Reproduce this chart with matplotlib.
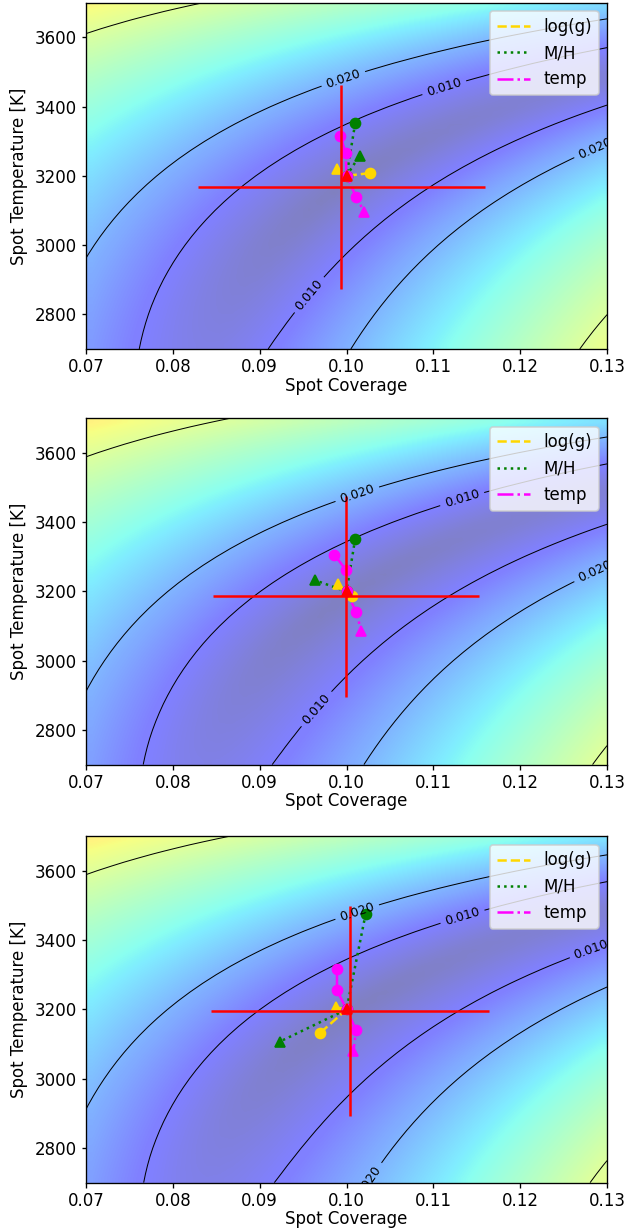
import numpy as np
import matplotlib
matplotlib.use("Agg")
import matplotlib.pyplot as plt

# rejilla de cobertura y temperatura de mancha
cobertura = np.linspace(0.07, 0.13, 41)
temperatura = np.linspace(2700, 3700, 41)

# modelo de residuo (contraste de mancha frente a la fotosfera)
T_fot = 4050.0
n_exp = 6
b_piso = 0.0126
niveles = [0.010, 0.020, 0.050]
niveles_etiqueta = [0.010, 0.020]

valor_real_c = 0.10
valor_real_T = 3200

# ajuste de cada panel (centro de la cruz de error)
ajuste_c = [0.0994, 0.0999, 0.10045]
ajuste_T = [3168, 3186, 3196]
err_c = [0.0165, 0.0153, 0.0160]
err_T = [295, 290, 303]
# sensibilidad a cada lado del valle (menos / mas senal de mancha)
sens_neg = [1.11, 1.24, 1.24]
curv_neg = [1.7, 0.0, 0.0]
sens_pos = [1.27, 1.073, 1.007]
curv_pos = [0.0, 3.24, 5.24]

# series: log(g), M/H, temp (el ultimo punto de cada serie es el triangulo)
logg_c = [[0.1027, 0.1000, 0.0989], [0.1006, 0.1000, 0.0990], [0.0970, 0.1000, 0.0988]]
logg_T = [[3208, 3200, 3219], [3188, 3200, 3222], [3133, 3200, 3206]]
mh_c = [[0.1010, 0.1000, 0.1015], [0.1010, 0.1000, 0.0964], [0.1022, 0.1000, 0.0923]]
mh_T = [[3352, 3200, 3258], [3352, 3200, 3232], [3476, 3200, 3107]]
temp_c = [[0.0993, 0.0999, 0.1000, 0.1011, 0.1020],
          [0.0986, 0.0999, 0.1000, 0.1011, 0.1017],
          [0.0989, 0.0989, 0.1000, 0.1011, 0.1008]]
temp_T = [[3316, 3265, 3200, 3140, 3097],
          [3306, 3263, 3200, 3140, 3087],
          [3317, 3256, 3200, 3141, 3080]]

# posiciones aproximadas de las etiquetas de contorno
etiquetas = [
    [(0.0997, 3475), (0.1113, 3451), (0.1286, 3282), (0.0952, 2867)],
    [(0.1010, 3499), (0.1131, 3485), (0.1279, 3297), (0.0962, 2868)],
    [(0.1011, 3491), (0.1132, 3481), (0.1276, 3413), (0.1019, 2713)],
]


def residuo(cc, TT, i):
    k = 1 - (TT / T_fot) ** n_exp
    S0 = ajuste_c[i] * (1 - (ajuste_T[i] / T_fot) ** n_exp)
    dS = cc * k - S0
    d = np.abs(dS)
    lado = np.where(dS < 0,
                    sens_neg[i] * d * (1 + curv_neg[i] * d),
                    sens_pos[i] * d * (1 + curv_pos[i] * d))
    return np.sqrt(lado ** 2 + (b_piso * (TT - ajuste_T[i]) / 1000) ** 2)


plt.rcParams["xtick.major.size"] = 2.7
plt.rcParams["ytick.major.size"] = 2.7
plt.rcParams["xtick.major.pad"] = 2.7
plt.rcParams["ytick.major.pad"] = 2.7

fig = plt.figure(figsize=(641 / 120, 1231 / 120), dpi=120)
fondos = [0.7165, 0.3789, 0.0393]
CC, TT = np.meshgrid(cobertura, temperatura)

for i in range(3):
    ax = fig.add_axes([0.1342, fondos[i], 0.8128, 0.2813])
    Z = residuo(CC, TT, i)
    ax.imshow(Z, origin="lower", aspect="auto", cmap="jet", alpha=0.5,
              vmin=0, vmax=0.088, interpolation="bilinear",
              extent=[cobertura[0], cobertura[-1], temperatura[0], temperatura[-1]])
    cs = ax.contour(CC, TT, Z, levels=niveles, colors="k", linewidths=0.6)
    ax.clabel(cs, levels=niveles_etiqueta, manual=etiquetas[i], fmt="%.3f", fontsize=7.5)

    ax.plot(logg_c[i], logg_T[i], "--", color="gold", label="log(g)")
    ax.plot(mh_c[i], mh_T[i], ":", color="green", label="M/H")
    ax.plot(temp_c[i], temp_T[i], "-.", color="magenta", label="temp")
    for xs, ys, col in [(logg_c[i], logg_T[i], "gold"),
                        (mh_c[i], mh_T[i], "green"),
                        (temp_c[i], temp_T[i], "magenta")]:
        ax.plot(xs[:-1], ys[:-1], "o", color=col, ls="none")
        ax.plot(xs[-1], ys[-1], "^", color=col, ls="none")

    ax.errorbar(ajuste_c[i], ajuste_T[i], xerr=err_c[i], yerr=err_T[i],
                color="red", capsize=0)
    ax.plot(valor_real_c, valor_real_T, "^", color="red")

    ax.set_xlim(0.07, 0.13)
    ax.set_ylim(2700, 3700)
    ax.set_xticks([0.07, 0.08, 0.09, 0.10, 0.11, 0.12, 0.13])
    ax.set_xticklabels(["0.07", "0.08", "0.09", "0.10", "0.11", "0.12", "0.13"])
    ax.set_yticks([2800, 3000, 3200, 3400, 3600])
    ax.set_xlabel("Spot Coverage", labelpad=0.5)
    ax.set_ylabel("Spot Temperature [K]")
    ax.legend(loc="upper right", fontsize=10)

fig.savefig("out.png", dpi=120)
